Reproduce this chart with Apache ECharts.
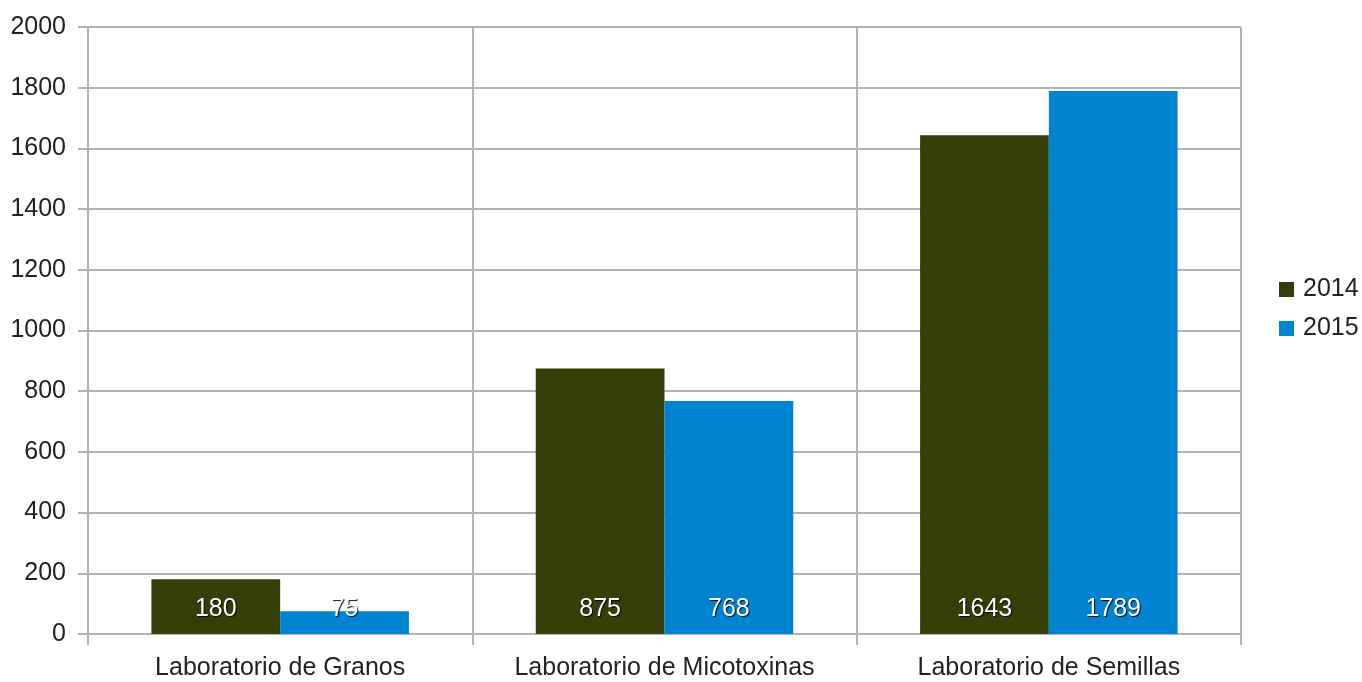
<!DOCTYPE html>
<html><head><meta charset="utf-8">
<script src="https://cdn.jsdelivr.net/npm/echarts@6/dist/echarts.min.js"></script>
<style>html,body{margin:0;padding:0;background:#fff}#c{width:1362px;height:682px}</style>
</head><body><div id="c"></div>
<script>
const categories = ['Laboratorio de Granos', 'Laboratorio de Micotoxinas', 'Laboratorio de Semillas'];
const values2014 = [180, 875, 1643];
const values2015 = [75, 768, 1789];
const seriesNames = ['2014', '2015'];
const colors = ['#333f06', '#0083d1'];

const font = 'Liberation Sans, Arial, sans-serif';
const lbl = {
  show: true, position: 'insideBottom', distance: 12,
  color: '#fff', fontSize: 25, fontFamily: font,
  textShadowColor: 'rgba(0,0,0,0.9)', textShadowOffsetX: 1, textShadowOffsetY: 1, textShadowBlur: 1
};
const chart = echarts.init(document.getElementById('c'), null, {renderer: 'canvas'});
chart.setOption({
  animation: false,
  color: colors,
  grid: {left: 88, right: 121, top: 27, bottom: 48, containLabel: false},
  legend: {
    orient: 'vertical', left: 1279, top: 277, padding: 0, itemWidth: 15, itemHeight: 15, itemGap: 14,
    icon: 'rect', data: seriesNames,
    textStyle: {fontSize: 25, fontFamily: font, color: '#222', padding: [0, 0, 0, 4]}
  },
  xAxis: {
    type: 'category', data: categories, boundaryGap: true,
    axisLine: {show: true, lineStyle: {color: '#b3b3b3', width: 2}},
    axisTick: {show: true, interval: 0, length: 11, lineStyle: {color: '#b3b3b3', width: 2}},
    splitLine: {show: true, interval: 0, lineStyle: {color: '#b3b3b3', width: 2}},
    axisLabel: {interval: 0, fontSize: 25, fontFamily: font, color: '#222', margin: 22}
  },
  yAxis: {
    type: 'value', min: 0, max: 2000, interval: 200,
    axisLine: {show: true, lineStyle: {color: '#b3b3b3', width: 2}},
    axisTick: {show: true, length: 10, lineStyle: {color: '#b3b3b3', width: 2}},
    splitLine: {show: true, lineStyle: {color: '#b3b3b3', width: 2}},
    axisLabel: {fontSize: 25, fontFamily: font, color: '#222', margin: 22, formatter: v => String(v)}
  },
  series: [
    {name: seriesNames[0], type: 'bar', data: values2014, barGap: '0%', barCategoryGap: '33%', label: lbl},
    {name: seriesNames[1], type: 'bar', data: values2015, barGap: '0%', barCategoryGap: '33%', label: lbl}
  ]
});
</script></body></html>
